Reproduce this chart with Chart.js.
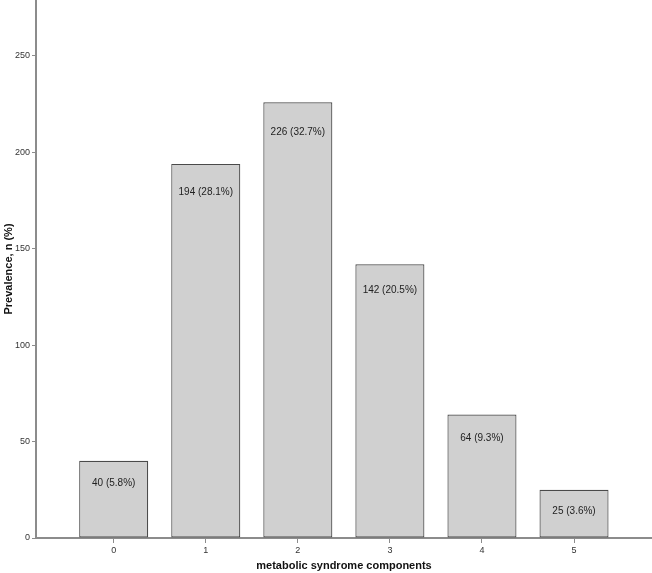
<!DOCTYPE html>
<html>
<head>
<meta charset="utf-8">
<script src="https://cdn.jsdelivr.net/npm/chart.js@4"></script>
<style>
  html, body { margin: 0; padding: 0; background: #fff; }
  canvas { display: block; }
</style>
</head>
<body>
<canvas id="chart" width="652" height="573"></canvas>
<script>
const components = [0, 1, 2, 3, 4, 5];
const counts = [40, 194, 226, 142, 64, 25];
const percents = ["5.8", "28.1", "32.7", "20.5", "9.3", "3.6"];
const yTicks = [0, 50, 100, 150, 200, 250];

const axisColor = "#8c8c8c";
const font = "'Liberation Sans', Arial, sans-serif";

// Text "n (p%)" a little below the top of each bar
const barLabels = {
  id: "barLabels",
  afterDatasetsDraw(chart) {
    const { ctx } = chart;
    const meta = chart.getDatasetMeta(0);
    ctx.save();
    ctx.font = `10px ${font}`;
    ctx.fillStyle = "#222";
    ctx.textAlign = "center";
    ctx.textBaseline = "middle";
    meta.data.forEach((bar, i) => {
      const h = bar.base - bar.y;
      ctx.fillText(`${counts[i]} (${percents[i]}%)`, bar.x, bar.y + 21 + h * 0.02);
    });
    ctx.restore();
  },
};

new Chart(document.getElementById("chart"), {
  type: "bar",
  data: {
    datasets: [
      {
        data: components.map((c, i) => ({ x: c, y: counts[i] })),
        backgroundColor: "#d0d0d0",
        borderColor: "#4a4a4a",
        borderWidth: 1.2,
        borderSkipped: false,
        barPercentage: 0.75,
        categoryPercentage: 1,
      },
    ],
  },
  options: {
    responsive: false,
    animation: false,
    layout: { padding: 0 },
    plugins: {
      legend: { display: false },
      tooltip: { enabled: false },
    },
    scales: {
      x: {
        type: "linear",
        min: -0.844,
        max: 5.847,
        offset: false,
        afterBuildTicks: (s) => {
          s.ticks = components.map((v) => ({ value: v }));
        },
        afterFit: (s) => {
          s.height = 35;
          s.paddingLeft = 0;
          s.paddingRight = 0;
        },
        ticks: {
          padding: 2,
          color: "#333",
          font: { family: font, size: 9 },
        },
        grid: {
          offset: false,
          drawOnChartArea: false,
          drawTicks: true,
          tickLength: 5,
          color: axisColor,
        },
        border: { display: true, color: axisColor, width: 2 },
        title: {
          display: true,
          text: "metabolic syndrome components",
          color: "#111",
          font: { family: font, size: 11, weight: "bold" },
          padding: { top: 4, bottom: 0 },
        },
      },
      y: {
        min: 0,
        max: 279,
        afterBuildTicks: (s) => {
          s.ticks = yTicks.map((v) => ({ value: v }));
        },
        afterFit: (s) => {
          s.width = 36;
          s.paddingTop = 0;
          s.paddingBottom = 0;
        },
        ticks: {
          padding: 2,
          color: "#333",
          font: { family: font, size: 9 },
        },
        grid: {
          drawOnChartArea: false,
          drawTicks: true,
          tickLength: 4,
          color: axisColor,
        },
        border: { display: true, color: axisColor, width: 2 },
        title: {
          display: true,
          text: "Prevalence, n (%)",
          color: "#111",
          font: { family: font, size: 11, weight: "bold" },
          padding: { top: 2, bottom: 0 },
        },
      },
    },
  },
  plugins: [barLabels],
});
</script>
</body>
</html>
